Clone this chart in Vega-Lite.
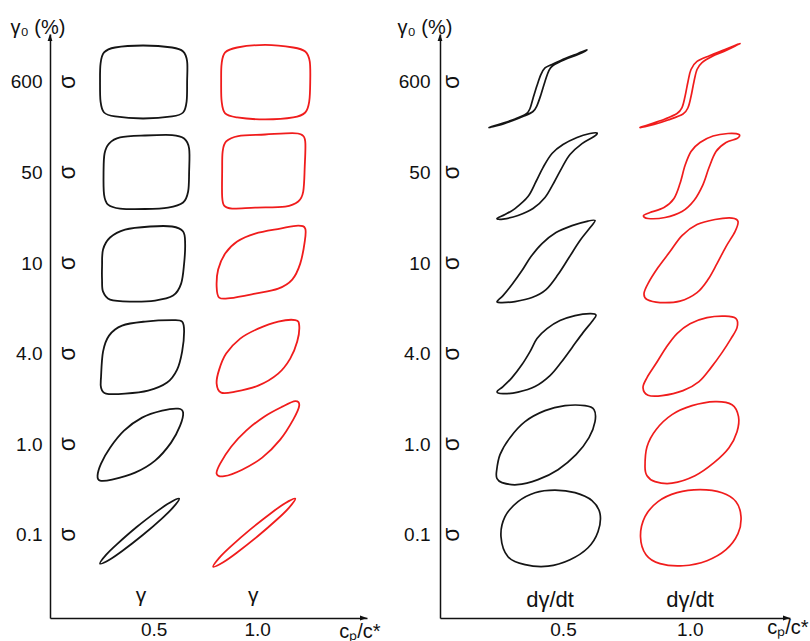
{
"$schema": "https://vega.github.io/schema/vega-lite/v6.json",
"background": "white",
"padding": {"left": 10, "top": 17, "right": 2, "bottom": 0},
"bounds": "flush",
"spacing": 73,
"config": {
  "view": {"stroke": null},
  "font": "Liberation Sans",
  "text": {"font": "Liberation Sans", "fontSize": 19, "color": "#111"},
  "axis": {"grid": false, "ticks": false, "domainColor": "#111", "domainWidth": 1.5, "labelFontSize": 19, "labelColor": "#111", "labelFont": "Liberation Sans", "titleFont": "Liberation Sans", "titleFontSize": 20, "titleFontWeight": "normal", "titleColor": "#111"}
},
"datasets": {
"left": [
{"k":"b600","c":"0.5","x":0.2415,"y":6.006},{"k":"b600","c":"0.5","x":0.244,"y":6.204},{"k":"b600","c":"0.5","x":0.2609,"y":6.326},{"k":"b600","c":"0.5","x":0.314,"y":6.381},{"k":"b600","c":"0.5","x":0.4493,"y":6.403},{"k":"b600","c":"0.5","x":0.5894,"y":6.381},{"k":"b600","c":"0.5","x":0.6425,"y":6.337},{"k":"b600","c":"0.5","x":0.6618,"y":6.227},{"k":"b600","c":"0.5","x":0.6618,"y":6.006},{"k":"b600","c":"0.5","x":0.6594,"y":5.785},{"k":"b600","c":"0.5","x":0.6425,"y":5.663},{"k":"b600","c":"0.5","x":0.5894,"y":5.619},{"k":"b600","c":"0.5","x":0.4493,"y":5.597},{"k":"b600","c":"0.5","x":0.314,"y":5.619},{"k":"b600","c":"0.5","x":0.2609,"y":5.663},{"k":"b600","c":"0.5","x":0.244,"y":5.785},
{"k":"b50","c":"0.5","x":0.2585,"y":5.011},{"k":"b50","c":"0.5","x":0.2633,"y":5.21},{"k":"b50","c":"0.5","x":0.285,"y":5.32},{"k":"b50","c":"0.5","x":0.3382,"y":5.387},{"k":"b50","c":"0.5","x":0.4589,"y":5.409},{"k":"b50","c":"0.5","x":0.5894,"y":5.414},{"k":"b50","c":"0.5","x":0.6473,"y":5.376},{"k":"b50","c":"0.5","x":0.6715,"y":5.265},{"k":"b50","c":"0.5","x":0.6715,"y":5.011},{"k":"b50","c":"0.5","x":0.6667,"y":4.79},{"k":"b50","c":"0.5","x":0.6425,"y":4.669},{"k":"b50","c":"0.5","x":0.57,"y":4.613},{"k":"b50","c":"0.5","x":0.4589,"y":4.597},{"k":"b50","c":"0.5","x":0.3382,"y":4.602},{"k":"b50","c":"0.5","x":0.2802,"y":4.646},{"k":"b50","c":"0.5","x":0.2609,"y":4.757},
{"k":"b10","c":"0.5","x":0.2512,"y":3.961},{"k":"b10","c":"0.5","x":0.256,"y":4.149},{"k":"b10","c":"0.5","x":0.2899,"y":4.282},{"k":"b10","c":"0.5","x":0.3623,"y":4.37},{"k":"b10","c":"0.5","x":0.4831,"y":4.404},{"k":"b10","c":"0.5","x":0.5894,"y":4.404},{"k":"b10","c":"0.5","x":0.6425,"y":4.348},{"k":"b10","c":"0.5","x":0.6522,"y":4.215},{"k":"b10","c":"0.5","x":0.6473,"y":3.994},{"k":"b10","c":"0.5","x":0.6329,"y":3.773},{"k":"b10","c":"0.5","x":0.5942,"y":3.641},{"k":"b10","c":"0.5","x":0.5072,"y":3.586},{"k":"b10","c":"0.5","x":0.3865,"y":3.575},{"k":"b10","c":"0.5","x":0.2899,"y":3.597},{"k":"b10","c":"0.5","x":0.256,"y":3.685},{"k":"b10","c":"0.5","x":0.2512,"y":3.818},
{"k":"b4","c":"0.5","x":0.2464,"y":2.746},{"k":"b4","c":"0.5","x":0.256,"y":3.022},{"k":"b4","c":"0.5","x":0.285,"y":3.199},{"k":"b4","c":"0.5","x":0.3478,"y":3.309},{"k":"b4","c":"0.5","x":0.4589,"y":3.354},{"k":"b4","c":"0.5","x":0.5894,"y":3.37},{"k":"b4","c":"0.5","x":0.6377,"y":3.354},{"k":"b4","c":"0.5","x":0.6473,"y":3.243},{"k":"b4","c":"0.5","x":0.6377,"y":3.022},{"k":"b4","c":"0.5","x":0.6135,"y":2.823},{"k":"b4","c":"0.5","x":0.5652,"y":2.68},{"k":"b4","c":"0.5","x":0.4734,"y":2.591},{"k":"b4","c":"0.5","x":0.3623,"y":2.558},{"k":"b4","c":"0.5","x":0.2705,"y":2.558},{"k":"b4","c":"0.5","x":0.2464,"y":2.624},
{"k":"b1","c":"0.5","x":0.2295,"y":1.652},{"k":"b1","c":"0.5","x":0.2464,"y":1.785},{"k":"b1","c":"0.5","x":0.2899,"y":1.961},{"k":"b1","c":"0.5","x":0.3575,"y":2.149},{"k":"b1","c":"0.5","x":0.4444,"y":2.293},{"k":"b1","c":"0.5","x":0.5411,"y":2.37},{"k":"b1","c":"0.5","x":0.6184,"y":2.392},{"k":"b1","c":"0.5","x":0.6425,"y":2.348},{"k":"b1","c":"0.5","x":0.628,"y":2.204},{"k":"b1","c":"0.5","x":0.5845,"y":2.017},{"k":"b1","c":"0.5","x":0.5072,"y":1.818},{"k":"b1","c":"0.5","x":0.4106,"y":1.685},{"k":"b1","c":"0.5","x":0.2995,"y":1.608},{"k":"b1","c":"0.5","x":0.2415,"y":1.597},
{"k":"b01","c":"0.5","x":0.2415,"y":0.68},{"k":"b01","c":"0.5","x":0.2705,"y":0.777},{"k":"b01","c":"0.5","x":0.3237,"y":0.896},{"k":"b01","c":"0.5","x":0.4169,"y":1.082},{"k":"b01","c":"0.5","x":0.5145,"y":1.255},{"k":"b01","c":"0.5","x":0.5758,"y":1.351},{"k":"b01","c":"0.5","x":0.6232,"y":1.398},{"k":"b01","c":"0.5","x":0.5942,"y":1.301},{"k":"b01","c":"0.5","x":0.5411,"y":1.181},{"k":"b01","c":"0.5","x":0.4478,"y":0.996},{"k":"b01","c":"0.5","x":0.3502,"y":0.822},{"k":"b01","c":"0.5","x":0.2889,"y":0.726},
{"k":"r600","c":"1.0","x":0.8261,"y":6.006},{"k":"r600","c":"1.0","x":0.8285,"y":6.204},{"k":"r600","c":"1.0","x":0.8454,"y":6.326},{"k":"r600","c":"1.0","x":0.9034,"y":6.381},{"k":"r600","c":"1.0","x":1.0386,"y":6.409},{"k":"r600","c":"1.0","x":1.1739,"y":6.381},{"k":"r600","c":"1.0","x":1.2319,"y":6.337},{"k":"r600","c":"1.0","x":1.2536,"y":6.227},{"k":"r600","c":"1.0","x":1.256,"y":6.006},{"k":"r600","c":"1.0","x":1.2512,"y":5.785},{"k":"r600","c":"1.0","x":1.2319,"y":5.663},{"k":"r600","c":"1.0","x":1.1739,"y":5.608},{"k":"r600","c":"1.0","x":1.0386,"y":5.586},{"k":"r600","c":"1.0","x":0.9034,"y":5.608},{"k":"r600","c":"1.0","x":0.8454,"y":5.652},{"k":"r600","c":"1.0","x":0.8285,"y":5.785},
{"k":"r50","c":"1.0","x":0.8309,"y":5.011},{"k":"r50","c":"1.0","x":0.8333,"y":5.232},{"k":"r50","c":"1.0","x":0.8502,"y":5.343},{"k":"r50","c":"1.0","x":0.9082,"y":5.403},{"k":"r50","c":"1.0","x":1.0386,"y":5.42},{"k":"r50","c":"1.0","x":1.1691,"y":5.436},{"k":"r50","c":"1.0","x":1.2126,"y":5.42},{"k":"r50","c":"1.0","x":1.2319,"y":5.343},{"k":"r50","c":"1.0","x":1.2295,"y":5.066},{"k":"r50","c":"1.0","x":1.2222,"y":4.79},{"k":"r50","c":"1.0","x":1.1981,"y":4.68},{"k":"r50","c":"1.0","x":1.1353,"y":4.624},{"k":"r50","c":"1.0","x":0.9903,"y":4.613},{"k":"r50","c":"1.0","x":0.8792,"y":4.602},{"k":"r50","c":"1.0","x":0.8406,"y":4.635},{"k":"r50","c":"1.0","x":0.8309,"y":4.735},
{"k":"r10","c":"1.0","x":0.8043,"y":3.74},{"k":"r10","c":"1.0","x":0.8116,"y":3.928},{"k":"r10","c":"1.0","x":0.8454,"y":4.105},{"k":"r10","c":"1.0","x":0.9034,"y":4.238},{"k":"r10","c":"1.0","x":0.9903,"y":4.326},{"k":"r10","c":"1.0","x":1.1111,"y":4.381},{"k":"r10","c":"1.0","x":1.1981,"y":4.414},{"k":"r10","c":"1.0","x":1.2319,"y":4.381},{"k":"r10","c":"1.0","x":1.2295,"y":4.238},{"k":"r10","c":"1.0","x":1.2077,"y":3.994},{"k":"r10","c":"1.0","x":1.1691,"y":3.818},{"k":"r10","c":"1.0","x":1.1014,"y":3.718},{"k":"r10","c":"1.0","x":0.9903,"y":3.663},{"k":"r10","c":"1.0","x":0.8696,"y":3.613},{"k":"r10","c":"1.0","x":0.8164,"y":3.619},
{"k":"r4","c":"1.0","x":0.8043,"y":2.669},{"k":"r4","c":"1.0","x":0.8164,"y":2.823},{"k":"r4","c":"1.0","x":0.8502,"y":3.0},{"k":"r4","c":"1.0","x":0.9179,"y":3.166},{"k":"r4","c":"1.0","x":1.0048,"y":3.276},{"k":"r4","c":"1.0","x":1.1014,"y":3.354},{"k":"r4","c":"1.0","x":1.1836,"y":3.37},{"k":"r4","c":"1.0","x":1.2029,"y":3.309},{"k":"r4","c":"1.0","x":1.1932,"y":3.133},{"k":"r4","c":"1.0","x":1.1594,"y":2.945},{"k":"r4","c":"1.0","x":1.1014,"y":2.779},{"k":"r4","c":"1.0","x":1.0048,"y":2.646},{"k":"r4","c":"1.0","x":0.8937,"y":2.58},{"k":"r4","c":"1.0","x":0.8261,"y":2.569},
{"k":"r1","c":"1.0","x":0.8043,"y":1.674},{"k":"r1","c":"1.0","x":0.8213,"y":1.785},{"k":"r1","c":"1.0","x":0.8744,"y":1.972},{"k":"r1","c":"1.0","x":0.9469,"y":2.149},{"k":"r1","c":"1.0","x":1.0338,"y":2.304},{"k":"r1","c":"1.0","x":1.1208,"y":2.414},{"k":"r1","c":"1.0","x":1.1836,"y":2.475},{"k":"r1","c":"1.0","x":1.2029,"y":2.425},{"k":"r1","c":"1.0","x":1.1739,"y":2.271},{"k":"r1","c":"1.0","x":1.1111,"y":2.05},{"k":"r1","c":"1.0","x":1.0242,"y":1.851},{"k":"r1","c":"1.0","x":0.9275,"y":1.718},{"k":"r1","c":"1.0","x":0.8406,"y":1.646},
{"k":"r01","c":"1.0","x":0.7874,"y":0.646},{"k":"r01","c":"1.0","x":0.8179,"y":0.747},{"k":"r01","c":"1.0","x":0.8729,"y":0.871},{"k":"r01","c":"1.0","x":0.97,"y":1.064},{"k":"r01","c":"1.0","x":1.071,"y":1.246},{"k":"r01","c":"1.0","x":1.1348,"y":1.348},{"k":"r01","c":"1.0","x":1.1836,"y":1.398},{"k":"r01","c":"1.0","x":1.1531,"y":1.297},{"k":"r01","c":"1.0","x":1.0981,"y":1.173},{"k":"r01","c":"1.0","x":1.001,"y":0.98},{"k":"r01","c":"1.0","x":0.9,"y":0.798},{"k":"r01","c":"1.0","x":0.8362,"y":0.696}
],
"right": [
{"k":"b600","c":"0.5","x":0.2082,"y":5.497},{"k":"b600","c":"0.5","x":0.2516,"y":5.536},{"k":"b600","c":"0.5","x":0.3107,"y":5.591},{"k":"b600","c":"0.5","x":0.3541,"y":5.646},{"k":"b600","c":"0.5","x":0.3699,"y":5.707},{"k":"b600","c":"0.5","x":0.3817,"y":5.818},{"k":"b600","c":"0.5","x":0.3975,"y":5.961},{"k":"b600","c":"0.5","x":0.4132,"y":6.083},{"k":"b600","c":"0.5","x":0.429,"y":6.155},{"k":"b600","c":"0.5","x":0.4566,"y":6.193},{"k":"b600","c":"0.5","x":0.5079,"y":6.26},{"k":"b600","c":"0.5","x":0.5591,"y":6.315},{"k":"b600","c":"0.5","x":0.5946,"y":6.354},{"k":"b600","c":"0.5","x":0.5591,"y":6.304},{"k":"b600","c":"0.5","x":0.5079,"y":6.249},{"k":"b600","c":"0.5","x":0.4606,"y":6.182},{"k":"b600","c":"0.5","x":0.4448,"y":6.127},{"k":"b600","c":"0.5","x":0.429,"y":6.006},{"k":"b600","c":"0.5","x":0.4132,"y":5.862},{"k":"b600","c":"0.5","x":0.3975,"y":5.74},{"k":"b600","c":"0.5","x":0.3817,"y":5.674},{"k":"b600","c":"0.5","x":0.3462,"y":5.624},{"k":"b600","c":"0.5","x":0.3028,"y":5.575},{"k":"b600","c":"0.5","x":0.2516,"y":5.525},
{"k":"b50","c":"0.5","x":0.2398,"y":4.492},{"k":"b50","c":"0.5","x":0.2713,"y":4.536},{"k":"b50","c":"0.5","x":0.3107,"y":4.602},{"k":"b50","c":"0.5","x":0.362,"y":4.735},{"k":"b50","c":"0.5","x":0.3936,"y":4.901},{"k":"b50","c":"0.5","x":0.4211,"y":5.055},{"k":"b50","c":"0.5","x":0.4566,"y":5.21},{"k":"b50","c":"0.5","x":0.5,"y":5.309},{"k":"b50","c":"0.5","x":0.5552,"y":5.387},{"k":"b50","c":"0.5","x":0.6065,"y":5.431},{"k":"b50","c":"0.5","x":0.6341,"y":5.436},{"k":"b50","c":"0.5","x":0.6222,"y":5.398},{"k":"b50","c":"0.5","x":0.5749,"y":5.32},{"k":"b50","c":"0.5","x":0.5276,"y":5.199},{"k":"b50","c":"0.5","x":0.496,"y":5.055},{"k":"b50","c":"0.5","x":0.4645,"y":4.89},{"k":"b50","c":"0.5","x":0.429,"y":4.724},{"k":"b50","c":"0.5","x":0.3817,"y":4.602},{"k":"b50","c":"0.5","x":0.3226,"y":4.525},{"k":"b50","c":"0.5","x":0.2634,"y":4.486},
{"k":"b10","c":"0.5","x":0.2398,"y":3.575},{"k":"b10","c":"0.5","x":0.2634,"y":3.641},{"k":"b10","c":"0.5","x":0.2989,"y":3.763},{"k":"b10","c":"0.5","x":0.3383,"y":3.917},{"k":"b10","c":"0.5","x":0.3738,"y":4.072},{"k":"b10","c":"0.5","x":0.4172,"y":4.215},{"k":"b10","c":"0.5","x":0.4724,"y":4.337},{"k":"b10","c":"0.5","x":0.5355,"y":4.414},{"k":"b10","c":"0.5","x":0.5986,"y":4.464},{"k":"b10","c":"0.5","x":0.6262,"y":4.47},{"k":"b10","c":"0.5","x":0.6104,"y":4.403},{"k":"b10","c":"0.5","x":0.567,"y":4.249},{"k":"b10","c":"0.5","x":0.5237,"y":4.061},{"k":"b10","c":"0.5","x":0.4803,"y":3.873},{"k":"b10","c":"0.5","x":0.433,"y":3.707},{"k":"b10","c":"0.5","x":0.3778,"y":3.619},{"k":"b10","c":"0.5","x":0.3107,"y":3.575},{"k":"b10","c":"0.5","x":0.2595,"y":3.564},
{"k":"b4","c":"0.5","x":0.2398,"y":2.58},{"k":"b4","c":"0.5","x":0.2634,"y":2.636},{"k":"b4","c":"0.5","x":0.2989,"y":2.735},{"k":"b4","c":"0.5","x":0.3383,"y":2.879},{"k":"b4","c":"0.5","x":0.3699,"y":3.022},{"k":"b4","c":"0.5","x":0.3975,"y":3.166},{"k":"b4","c":"0.5","x":0.4369,"y":3.276},{"k":"b4","c":"0.5","x":0.4881,"y":3.365},{"k":"b4","c":"0.5","x":0.5473,"y":3.42},{"k":"b4","c":"0.5","x":0.6065,"y":3.442},{"k":"b4","c":"0.5","x":0.6301,"y":3.425},{"k":"b4","c":"0.5","x":0.6143,"y":3.354},{"k":"b4","c":"0.5","x":0.5789,"y":3.232},{"k":"b4","c":"0.5","x":0.5355,"y":3.066},{"k":"b4","c":"0.5","x":0.4921,"y":2.901},{"k":"b4","c":"0.5","x":0.4487,"y":2.757},{"k":"b4","c":"0.5","x":0.3896,"y":2.636},{"k":"b4","c":"0.5","x":0.3226,"y":2.575},{"k":"b4","c":"0.5","x":0.2634,"y":2.558},
{"k":"b1","c":"0.5","x":0.2378,"y":1.696},{"k":"b1","c":"0.5","x":0.2516,"y":1.884},{"k":"b1","c":"0.5","x":0.291,"y":2.072},{"k":"b1","c":"0.5","x":0.3502,"y":2.249},{"k":"b1","c":"0.5","x":0.429,"y":2.37},{"k":"b1","c":"0.5","x":0.5079,"y":2.425},{"k":"b1","c":"0.5","x":0.5868,"y":2.425},{"k":"b1","c":"0.5","x":0.6222,"y":2.381},{"k":"b1","c":"0.5","x":0.6262,"y":2.249},{"k":"b1","c":"0.5","x":0.6025,"y":2.072},{"k":"b1","c":"0.5","x":0.5513,"y":1.884},{"k":"b1","c":"0.5","x":0.4803,"y":1.718},{"k":"b1","c":"0.5","x":0.4014,"y":1.608},{"k":"b1","c":"0.5","x":0.3186,"y":1.552},{"k":"b1","c":"0.5","x":0.2595,"y":1.575},{"k":"b1","c":"0.5","x":0.2398,"y":1.619},
{"k":"b01","c":"0.5","x":0.2555,"y":0.978},{"k":"b01","c":"0.5","x":0.2713,"y":1.199},{"k":"b01","c":"0.5","x":0.3226,"y":1.365},{"k":"b01","c":"0.5","x":0.3896,"y":1.464},{"k":"b01","c":"0.5","x":0.4684,"y":1.492},{"k":"b01","c":"0.5","x":0.5473,"y":1.464},{"k":"b01","c":"0.5","x":0.6143,"y":1.376},{"k":"b01","c":"0.5","x":0.6459,"y":1.232},{"k":"b01","c":"0.5","x":0.638,"y":1.033},{"k":"b01","c":"0.5","x":0.5986,"y":0.856},{"k":"b01","c":"0.5","x":0.5276,"y":0.724},{"k":"b01","c":"0.5","x":0.4409,"y":0.652},{"k":"b01","c":"0.5","x":0.3502,"y":0.669},{"k":"b01","c":"0.5","x":0.2831,"y":0.757},
{"k":"r600","c":"1.0","x":0.8036,"y":5.497},{"k":"r600","c":"1.0","x":0.8509,"y":5.541},{"k":"r600","c":"1.0","x":0.9022,"y":5.591},{"k":"r600","c":"1.0","x":0.9495,"y":5.652},{"k":"r600","c":"1.0","x":0.9692,"y":5.718},{"k":"r600","c":"1.0","x":0.9811,"y":5.84},{"k":"r600","c":"1.0","x":0.9929,"y":6.006},{"k":"r600","c":"1.0","x":1.0047,"y":6.138},{"k":"r600","c":"1.0","x":1.0284,"y":6.227},{"k":"r600","c":"1.0","x":1.0796,"y":6.293},{"k":"r600","c":"1.0","x":1.1388,"y":6.359},{"k":"r600","c":"1.0","x":1.1979,"y":6.425},{"k":"r600","c":"1.0","x":1.1427,"y":6.348},{"k":"r600","c":"1.0","x":1.0875,"y":6.282},{"k":"r600","c":"1.0","x":1.0481,"y":6.215},{"k":"r600","c":"1.0","x":1.0284,"y":6.138},{"k":"r600","c":"1.0","x":1.0165,"y":6.006},{"k":"r600","c":"1.0","x":1.0047,"y":5.84},{"k":"r600","c":"1.0","x":0.9929,"y":5.718},{"k":"r600","c":"1.0","x":0.9732,"y":5.646},{"k":"r600","c":"1.0","x":0.914,"y":5.58},{"k":"r600","c":"1.0","x":0.8588,"y":5.53},
{"k":"r50","c":"1.0","x":0.8174,"y":4.525},{"k":"r50","c":"1.0","x":0.843,"y":4.558},{"k":"r50","c":"1.0","x":0.8982,"y":4.613},{"k":"r50","c":"1.0","x":0.9376,"y":4.713},{"k":"r50","c":"1.0","x":0.9613,"y":4.878},{"k":"r50","c":"1.0","x":0.9811,"y":5.077},{"k":"r50","c":"1.0","x":1.0047,"y":5.232},{"k":"r50","c":"1.0","x":1.0402,"y":5.331},{"k":"r50","c":"1.0","x":1.0914,"y":5.403},{"k":"r50","c":"1.0","x":1.1506,"y":5.431},{"k":"r50","c":"1.0","x":1.194,"y":5.42},{"k":"r50","c":"1.0","x":1.1861,"y":5.376},{"k":"r50","c":"1.0","x":1.1427,"y":5.331},{"k":"r50","c":"1.0","x":1.1033,"y":5.232},{"k":"r50","c":"1.0","x":1.0757,"y":5.055},{"k":"r50","c":"1.0","x":1.052,"y":4.867},{"k":"r50","c":"1.0","x":1.0165,"y":4.691},{"k":"r50","c":"1.0","x":0.9692,"y":4.569},{"k":"r50","c":"1.0","x":0.9022,"y":4.503},{"k":"r50","c":"1.0","x":0.8351,"y":4.492},
{"k":"r10","c":"1.0","x":0.8194,"y":3.663},{"k":"r10","c":"1.0","x":0.8351,"y":3.773},{"k":"r10","c":"1.0","x":0.8746,"y":3.95},{"k":"r10","c":"1.0","x":0.9219,"y":4.127},{"k":"r10","c":"1.0","x":0.9692,"y":4.304},{"k":"r10","c":"1.0","x":1.0284,"y":4.425},{"k":"r10","c":"1.0","x":1.0993,"y":4.481},{"k":"r10","c":"1.0","x":1.1664,"y":4.497},{"k":"r10","c":"1.0","x":1.19,"y":4.459},{"k":"r10","c":"1.0","x":1.1782,"y":4.348},{"k":"r10","c":"1.0","x":1.1427,"y":4.182},{"k":"r10","c":"1.0","x":1.1072,"y":3.994},{"k":"r10","c":"1.0","x":1.0717,"y":3.818},{"k":"r10","c":"1.0","x":1.0284,"y":3.674},{"k":"r10","c":"1.0","x":0.9613,"y":3.58},{"k":"r10","c":"1.0","x":0.8825,"y":3.564},{"k":"r10","c":"1.0","x":0.8312,"y":3.597},
{"k":"r4","c":"1.0","x":0.8154,"y":2.624},{"k":"r4","c":"1.0","x":0.8312,"y":2.735},{"k":"r4","c":"1.0","x":0.8667,"y":2.89},{"k":"r4","c":"1.0","x":0.9061,"y":3.066},{"k":"r4","c":"1.0","x":0.9495,"y":3.221},{"k":"r4","c":"1.0","x":1.0008,"y":3.331},{"k":"r4","c":"1.0","x":1.0678,"y":3.398},{"k":"r4","c":"1.0","x":1.1388,"y":3.414},{"k":"r4","c":"1.0","x":1.1822,"y":3.387},{"k":"r4","c":"1.0","x":1.1861,"y":3.287},{"k":"r4","c":"1.0","x":1.1624,"y":3.166},{"k":"r4","c":"1.0","x":1.1269,"y":3.011},{"k":"r4","c":"1.0","x":1.0836,"y":2.845},{"k":"r4","c":"1.0","x":1.0363,"y":2.691},{"k":"r4","c":"1.0","x":0.9732,"y":2.591},{"k":"r4","c":"1.0","x":0.8903,"y":2.536},{"k":"r4","c":"1.0","x":0.8351,"y":2.541},
{"k":"r1","c":"1.0","x":0.8233,"y":1.751},{"k":"r1","c":"1.0","x":0.8312,"y":1.972},{"k":"r1","c":"1.0","x":0.8667,"y":2.16},{"k":"r1","c":"1.0","x":0.9298,"y":2.326},{"k":"r1","c":"1.0","x":1.0087,"y":2.425},{"k":"r1","c":"1.0","x":1.0993,"y":2.47},{"k":"r1","c":"1.0","x":1.1664,"y":2.436},{"k":"r1","c":"1.0","x":1.192,"y":2.304},{"k":"r1","c":"1.0","x":1.1861,"y":2.138},{"k":"r1","c":"1.0","x":1.1545,"y":1.961},{"k":"r1","c":"1.0","x":1.0954,"y":1.796},{"k":"r1","c":"1.0","x":1.0205,"y":1.652},{"k":"r1","c":"1.0","x":0.9298,"y":1.569},{"k":"r1","c":"1.0","x":0.8628,"y":1.586},{"k":"r1","c":"1.0","x":0.8312,"y":1.652},
{"k":"r01","c":"1.0","x":0.8056,"y":0.978},{"k":"r01","c":"1.0","x":0.8233,"y":1.199},{"k":"r01","c":"1.0","x":0.8746,"y":1.365},{"k":"r01","c":"1.0","x":0.9495,"y":1.464},{"k":"r01","c":"1.0","x":1.0402,"y":1.497},{"k":"r01","c":"1.0","x":1.1269,"y":1.464},{"k":"r01","c":"1.0","x":1.1822,"y":1.365},{"k":"r01","c":"1.0","x":1.2018,"y":1.199},{"k":"r01","c":"1.0","x":1.19,"y":1.011},{"k":"r01","c":"1.0","x":1.1427,"y":0.834},{"k":"r01","c":"1.0","x":1.0678,"y":0.713},{"k":"r01","c":"1.0","x":0.9732,"y":0.657},{"k":"r01","c":"1.0","x":0.8825,"y":0.68},{"k":"r01","c":"1.0","x":0.8273,"y":0.779}
],
"levels": [{"lv":1},{"lv":2},{"lv":3},{"lv":4},{"lv":5},{"lv":6}],
"one": [{"n":1}]
},
"hconcat": [
{
  "width": 317, "height": 584,
  "layer": [
    {
      "data": {"name": "left"},
      "mark": {"type": "line", "interpolate": "cardinal-closed", "strokeWidth": 1.8, "order": false},
      "encoding": {
        "x": {"field": "x", "type": "quantitative", "scale": {"domain": [0, 1.53], "nice": false, "zero": false},
              "axis": {"values": [0.5, 1.0], "format": ".1f", "labelPadding": 2, "title": "cₚ/c*", "titleX": 330, "titleY": 3, "titleAlign": "right", "titleBaseline": "top", "titleAnchor": null}},
        "y": {"field": "y", "type": "quantitative", "scale": {"domain": [0.08, 6.53], "nice": false, "zero": false},
              "axis": {"values": [1, 2, 3, 4, 5, 6], "labelExpr": "['','0.1','1.0','4.0','10','50','600'][datum.value]", "labelPadding": 8, "title": "γ₀ (%)", "titleAngle": 0, "titleAlign": "left", "titleBaseline": "alphabetic", "titleX": -40, "titleY": -1, "titleAnchor": null}},
        "detail": {"field": "k", "type": "nominal"},
        "color": {"field": "c", "type": "nominal", "scale": {"domain": ["0.5", "1.0"], "range": ["#151515", "#f01c1c"]}, "legend": null}
      }
    },
    {
      "data": {"name": "levels"},
      "mark": {"type": "text", "angle": 270, "align": "center", "baseline": "middle", "fontSize": 23},
      "encoding": {"x": {"datum": 0.085, "type": "quantitative"}, "y": {"field": "lv", "type": "quantitative"}, "text": {"value": "σ"}}
    },
    {
      "data": {"name": "one"},
      "mark": {"type": "text", "align": "center", "baseline": "alphabetic", "fontSize": 21},
      "encoding": {"x": {"datum": 0.4396, "type": "quantitative"}, "y": {"datum": 0.26, "type": "quantitative"}, "text": {"value": "γ"}}
    },
    {
      "data": {"name": "one"},
      "mark": {"type": "text", "align": "center", "baseline": "alphabetic", "fontSize": 21},
      "encoding": {"x": {"datum": 0.9807, "type": "quantitative"}, "y": {"datum": 0.26, "type": "quantitative"}, "text": {"value": "γ"}}
    },
    {
      "data": {"name": "one"},
      "mark": {"type": "point", "shape": "M0,0L-1.2,3.5L1.2,3.5Z", "size": 16, "filled": true, "color": "#111", "opacity": 1},
      "encoding": {"x": {"datum": 0, "type": "quantitative"}, "y": {"datum": 6.53, "type": "quantitative"}}
    },
    {
      "data": {"name": "one"},
      "mark": {"type": "point", "shape": "M0,0L-3.5,-1.2L-3.5,1.2Z", "size": 16, "filled": true, "color": "#111", "opacity": 1},
      "encoding": {"x": {"datum": 1.53, "type": "quantitative"}, "y": {"datum": 0.08, "type": "quantitative"}}
    }
  ]
},
{
  "width": 350, "height": 584,
  "layer": [
    {
      "data": {"name": "right"},
      "mark": {"type": "line", "interpolate": "cardinal-closed", "strokeWidth": 1.7, "order": false},
      "encoding": {
        "x": {"field": "x", "type": "quantitative", "scale": {"domain": [0.015, 1.395], "nice": false, "zero": false},
              "axis": {"values": [0.5, 1.0], "format": ".1f", "labelPadding": 2, "title": "cₚ/c*", "titleX": 368, "titleY": -1, "titleAlign": "right", "titleBaseline": "top", "titleAnchor": null}},
        "y": {"field": "y", "type": "quantitative", "scale": {"domain": [0.08, 6.53], "nice": false, "zero": false},
              "axis": {"values": [1, 2, 3, 4, 5, 6], "labelExpr": "['','0.1','1.0','4.0','10','50','600'][datum.value]", "labelPadding": 10, "title": "γ₀ (%)", "titleAngle": 0, "titleAlign": "left", "titleBaseline": "alphabetic", "titleX": -43, "titleY": -1, "titleAnchor": null}},
        "detail": {"field": "k", "type": "nominal"},
        "color": {"field": "c", "type": "nominal", "scale": {"domain": ["0.5", "1.0"], "range": ["#151515", "#f01c1c"]}, "legend": null}
      }
    },
    {
      "data": {"name": "levels"},
      "mark": {"type": "text", "angle": 270, "align": "center", "baseline": "middle", "fontSize": 23},
      "encoding": {"x": {"datum": 0.0623, "type": "quantitative"}, "y": {"field": "lv", "type": "quantitative"}, "text": {"value": "σ"}}
    },
    {
      "data": {"name": "one"},
      "mark": {"type": "text", "align": "center", "baseline": "alphabetic", "fontSize": 22},
      "encoding": {"x": {"datum": 0.4487, "type": "quantitative"}, "y": {"datum": 0.204, "type": "quantitative"}, "text": {"value": "dγ/dt"}}
    },
    {
      "data": {"name": "one"},
      "mark": {"type": "text", "align": "center", "baseline": "alphabetic", "fontSize": 22},
      "encoding": {"x": {"datum": 1.0008, "type": "quantitative"}, "y": {"datum": 0.204, "type": "quantitative"}, "text": {"value": "dγ/dt"}}
    },
    {
      "data": {"name": "one"},
      "mark": {"type": "point", "shape": "M0,0L-1.2,3.5L1.2,3.5Z", "size": 16, "filled": true, "color": "#111", "opacity": 1},
      "encoding": {"x": {"datum": 0.015, "type": "quantitative"}, "y": {"datum": 6.53, "type": "quantitative"}}
    },
    {
      "data": {"name": "one"},
      "mark": {"type": "point", "shape": "M0,0L-3.5,-1.2L-3.5,1.2Z", "size": 16, "filled": true, "color": "#111", "opacity": 1},
      "encoding": {"x": {"datum": 1.395, "type": "quantitative"}, "y": {"datum": 0.08, "type": "quantitative"}}
    }
  ]
}
]
}
